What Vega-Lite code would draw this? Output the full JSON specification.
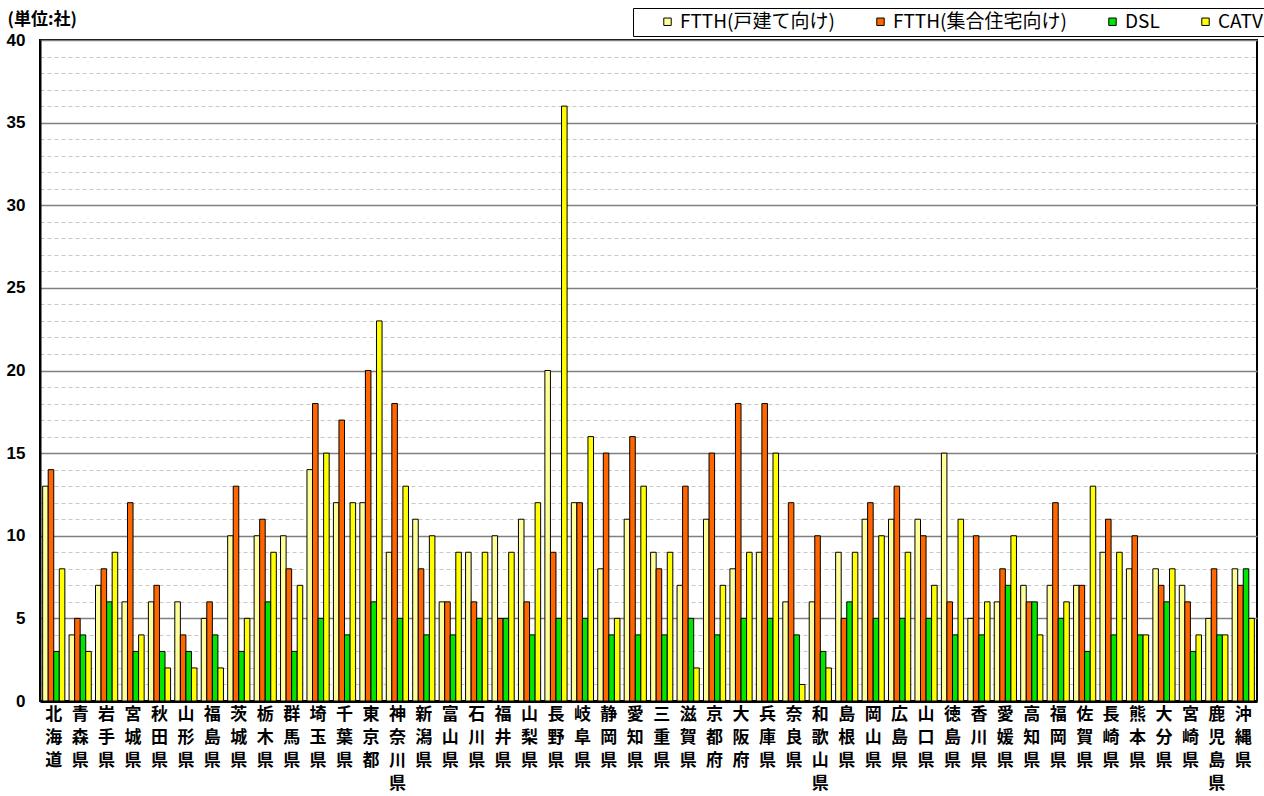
{
 "$schema": "https://vega.github.io/schema/vega-lite/v6.json",
 "width": 1217,
 "height": 661,
 "autosize": "none",
 "padding": {"left": 40, "top": 40, "right": 7, "bottom": 95},
 "background": "white",
 "data": {"values": [
  {"pref":"北海道","series":"FTTH(戸建て向け)","value":13},{"pref":"北海道","series":"FTTH(集合住宅向け)","value":14},{"pref":"北海道","series":"DSL","value":3},{"pref":"北海道","series":"CATV","value":8},
  {"pref":"青森県","series":"FTTH(戸建て向け)","value":4},{"pref":"青森県","series":"FTTH(集合住宅向け)","value":5},{"pref":"青森県","series":"DSL","value":4},{"pref":"青森県","series":"CATV","value":3},
  {"pref":"岩手県","series":"FTTH(戸建て向け)","value":7},{"pref":"岩手県","series":"FTTH(集合住宅向け)","value":8},{"pref":"岩手県","series":"DSL","value":6},{"pref":"岩手県","series":"CATV","value":9},
  {"pref":"宮城県","series":"FTTH(戸建て向け)","value":6},{"pref":"宮城県","series":"FTTH(集合住宅向け)","value":12},{"pref":"宮城県","series":"DSL","value":3},{"pref":"宮城県","series":"CATV","value":4},
  {"pref":"秋田県","series":"FTTH(戸建て向け)","value":6},{"pref":"秋田県","series":"FTTH(集合住宅向け)","value":7},{"pref":"秋田県","series":"DSL","value":3},{"pref":"秋田県","series":"CATV","value":2},
  {"pref":"山形県","series":"FTTH(戸建て向け)","value":6},{"pref":"山形県","series":"FTTH(集合住宅向け)","value":4},{"pref":"山形県","series":"DSL","value":3},{"pref":"山形県","series":"CATV","value":2},
  {"pref":"福島県","series":"FTTH(戸建て向け)","value":5},{"pref":"福島県","series":"FTTH(集合住宅向け)","value":6},{"pref":"福島県","series":"DSL","value":4},{"pref":"福島県","series":"CATV","value":2},
  {"pref":"茨城県","series":"FTTH(戸建て向け)","value":10},{"pref":"茨城県","series":"FTTH(集合住宅向け)","value":13},{"pref":"茨城県","series":"DSL","value":3},{"pref":"茨城県","series":"CATV","value":5},
  {"pref":"栃木県","series":"FTTH(戸建て向け)","value":10},{"pref":"栃木県","series":"FTTH(集合住宅向け)","value":11},{"pref":"栃木県","series":"DSL","value":6},{"pref":"栃木県","series":"CATV","value":9},
  {"pref":"群馬県","series":"FTTH(戸建て向け)","value":10},{"pref":"群馬県","series":"FTTH(集合住宅向け)","value":8},{"pref":"群馬県","series":"DSL","value":3},{"pref":"群馬県","series":"CATV","value":7},
  {"pref":"埼玉県","series":"FTTH(戸建て向け)","value":14},{"pref":"埼玉県","series":"FTTH(集合住宅向け)","value":18},{"pref":"埼玉県","series":"DSL","value":5},{"pref":"埼玉県","series":"CATV","value":15},
  {"pref":"千葉県","series":"FTTH(戸建て向け)","value":12},{"pref":"千葉県","series":"FTTH(集合住宅向け)","value":17},{"pref":"千葉県","series":"DSL","value":4},{"pref":"千葉県","series":"CATV","value":12},
  {"pref":"東京都","series":"FTTH(戸建て向け)","value":12},{"pref":"東京都","series":"FTTH(集合住宅向け)","value":20},{"pref":"東京都","series":"DSL","value":6},{"pref":"東京都","series":"CATV","value":23},
  {"pref":"神奈川県","series":"FTTH(戸建て向け)","value":9},{"pref":"神奈川県","series":"FTTH(集合住宅向け)","value":18},{"pref":"神奈川県","series":"DSL","value":5},{"pref":"神奈川県","series":"CATV","value":13},
  {"pref":"新潟県","series":"FTTH(戸建て向け)","value":11},{"pref":"新潟県","series":"FTTH(集合住宅向け)","value":8},{"pref":"新潟県","series":"DSL","value":4},{"pref":"新潟県","series":"CATV","value":10},
  {"pref":"富山県","series":"FTTH(戸建て向け)","value":6},{"pref":"富山県","series":"FTTH(集合住宅向け)","value":6},{"pref":"富山県","series":"DSL","value":4},{"pref":"富山県","series":"CATV","value":9},
  {"pref":"石川県","series":"FTTH(戸建て向け)","value":9},{"pref":"石川県","series":"FTTH(集合住宅向け)","value":6},{"pref":"石川県","series":"DSL","value":5},{"pref":"石川県","series":"CATV","value":9},
  {"pref":"福井県","series":"FTTH(戸建て向け)","value":10},{"pref":"福井県","series":"FTTH(集合住宅向け)","value":5},{"pref":"福井県","series":"DSL","value":5},{"pref":"福井県","series":"CATV","value":9},
  {"pref":"山梨県","series":"FTTH(戸建て向け)","value":11},{"pref":"山梨県","series":"FTTH(集合住宅向け)","value":6},{"pref":"山梨県","series":"DSL","value":4},{"pref":"山梨県","series":"CATV","value":12},
  {"pref":"長野県","series":"FTTH(戸建て向け)","value":20},{"pref":"長野県","series":"FTTH(集合住宅向け)","value":9},{"pref":"長野県","series":"DSL","value":5},{"pref":"長野県","series":"CATV","value":36},
  {"pref":"岐阜県","series":"FTTH(戸建て向け)","value":12},{"pref":"岐阜県","series":"FTTH(集合住宅向け)","value":12},{"pref":"岐阜県","series":"DSL","value":5},{"pref":"岐阜県","series":"CATV","value":16},
  {"pref":"静岡県","series":"FTTH(戸建て向け)","value":8},{"pref":"静岡県","series":"FTTH(集合住宅向け)","value":15},{"pref":"静岡県","series":"DSL","value":4},{"pref":"静岡県","series":"CATV","value":5},
  {"pref":"愛知県","series":"FTTH(戸建て向け)","value":11},{"pref":"愛知県","series":"FTTH(集合住宅向け)","value":16},{"pref":"愛知県","series":"DSL","value":4},{"pref":"愛知県","series":"CATV","value":13},
  {"pref":"三重県","series":"FTTH(戸建て向け)","value":9},{"pref":"三重県","series":"FTTH(集合住宅向け)","value":8},{"pref":"三重県","series":"DSL","value":4},{"pref":"三重県","series":"CATV","value":9},
  {"pref":"滋賀県","series":"FTTH(戸建て向け)","value":7},{"pref":"滋賀県","series":"FTTH(集合住宅向け)","value":13},{"pref":"滋賀県","series":"DSL","value":5},{"pref":"滋賀県","series":"CATV","value":2},
  {"pref":"京都府","series":"FTTH(戸建て向け)","value":11},{"pref":"京都府","series":"FTTH(集合住宅向け)","value":15},{"pref":"京都府","series":"DSL","value":4},{"pref":"京都府","series":"CATV","value":7},
  {"pref":"大阪府","series":"FTTH(戸建て向け)","value":8},{"pref":"大阪府","series":"FTTH(集合住宅向け)","value":18},{"pref":"大阪府","series":"DSL","value":5},{"pref":"大阪府","series":"CATV","value":9},
  {"pref":"兵庫県","series":"FTTH(戸建て向け)","value":9},{"pref":"兵庫県","series":"FTTH(集合住宅向け)","value":18},{"pref":"兵庫県","series":"DSL","value":5},{"pref":"兵庫県","series":"CATV","value":15},
  {"pref":"奈良県","series":"FTTH(戸建て向け)","value":6},{"pref":"奈良県","series":"FTTH(集合住宅向け)","value":12},{"pref":"奈良県","series":"DSL","value":4},{"pref":"奈良県","series":"CATV","value":1},
  {"pref":"和歌山県","series":"FTTH(戸建て向け)","value":6},{"pref":"和歌山県","series":"FTTH(集合住宅向け)","value":10},{"pref":"和歌山県","series":"DSL","value":3},{"pref":"和歌山県","series":"CATV","value":2},
  {"pref":"島根県","series":"FTTH(戸建て向け)","value":9},{"pref":"島根県","series":"FTTH(集合住宅向け)","value":5},{"pref":"島根県","series":"DSL","value":6},{"pref":"島根県","series":"CATV","value":9},
  {"pref":"岡山県","series":"FTTH(戸建て向け)","value":11},{"pref":"岡山県","series":"FTTH(集合住宅向け)","value":12},{"pref":"岡山県","series":"DSL","value":5},{"pref":"岡山県","series":"CATV","value":10},
  {"pref":"広島県","series":"FTTH(戸建て向け)","value":11},{"pref":"広島県","series":"FTTH(集合住宅向け)","value":13},{"pref":"広島県","series":"DSL","value":5},{"pref":"広島県","series":"CATV","value":9},
  {"pref":"山口県","series":"FTTH(戸建て向け)","value":11},{"pref":"山口県","series":"FTTH(集合住宅向け)","value":10},{"pref":"山口県","series":"DSL","value":5},{"pref":"山口県","series":"CATV","value":7},
  {"pref":"徳島県","series":"FTTH(戸建て向け)","value":15},{"pref":"徳島県","series":"FTTH(集合住宅向け)","value":6},{"pref":"徳島県","series":"DSL","value":4},{"pref":"徳島県","series":"CATV","value":11},
  {"pref":"香川県","series":"FTTH(戸建て向け)","value":5},{"pref":"香川県","series":"FTTH(集合住宅向け)","value":10},{"pref":"香川県","series":"DSL","value":4},{"pref":"香川県","series":"CATV","value":6},
  {"pref":"愛媛県","series":"FTTH(戸建て向け)","value":6},{"pref":"愛媛県","series":"FTTH(集合住宅向け)","value":8},{"pref":"愛媛県","series":"DSL","value":7},{"pref":"愛媛県","series":"CATV","value":10},
  {"pref":"高知県","series":"FTTH(戸建て向け)","value":7},{"pref":"高知県","series":"FTTH(集合住宅向け)","value":6},{"pref":"高知県","series":"DSL","value":6},{"pref":"高知県","series":"CATV","value":4},
  {"pref":"福岡県","series":"FTTH(戸建て向け)","value":7},{"pref":"福岡県","series":"FTTH(集合住宅向け)","value":12},{"pref":"福岡県","series":"DSL","value":5},{"pref":"福岡県","series":"CATV","value":6},
  {"pref":"佐賀県","series":"FTTH(戸建て向け)","value":7},{"pref":"佐賀県","series":"FTTH(集合住宅向け)","value":7},{"pref":"佐賀県","series":"DSL","value":3},{"pref":"佐賀県","series":"CATV","value":13},
  {"pref":"長崎県","series":"FTTH(戸建て向け)","value":9},{"pref":"長崎県","series":"FTTH(集合住宅向け)","value":11},{"pref":"長崎県","series":"DSL","value":4},{"pref":"長崎県","series":"CATV","value":9},
  {"pref":"熊本県","series":"FTTH(戸建て向け)","value":8},{"pref":"熊本県","series":"FTTH(集合住宅向け)","value":10},{"pref":"熊本県","series":"DSL","value":4},{"pref":"熊本県","series":"CATV","value":4},
  {"pref":"大分県","series":"FTTH(戸建て向け)","value":8},{"pref":"大分県","series":"FTTH(集合住宅向け)","value":7},{"pref":"大分県","series":"DSL","value":6},{"pref":"大分県","series":"CATV","value":8},
  {"pref":"宮崎県","series":"FTTH(戸建て向け)","value":7},{"pref":"宮崎県","series":"FTTH(集合住宅向け)","value":6},{"pref":"宮崎県","series":"DSL","value":3},{"pref":"宮崎県","series":"CATV","value":4},
  {"pref":"鹿児島県","series":"FTTH(戸建て向け)","value":5},{"pref":"鹿児島県","series":"FTTH(集合住宅向け)","value":8},{"pref":"鹿児島県","series":"DSL","value":4},{"pref":"鹿児島県","series":"CATV","value":4},
  {"pref":"沖縄県","series":"FTTH(戸建て向け)","value":8},{"pref":"沖縄県","series":"FTTH(集合住宅向け)","value":7},{"pref":"沖縄県","series":"DSL","value":8},{"pref":"沖縄県","series":"CATV","value":5}
 ]},
 "mark": {"type": "bar", "stroke": "black", "strokeWidth": 1},
 "encoding": {
  "x": {
   "field": "pref", "type": "nominal", "sort": null,
   "scale": {"paddingInner": 0.16, "paddingOuter": 0.1},
   "axis": {
    "title": null, "labelAngle": 0, "labelExpr": "split(datum.label, '')",
    "labelFont": "Noto Sans CJK JP", "labelFontWeight": "bold", "labelFontSize": 17,
    "labelLineHeight": 23, "labelBaseline": "top", "labelPadding": 5, "labelColor": "black",
    "labelOverlap": false, "labelBound": false, "ticks": false, "domainColor": "black", "domainWidth": 3
   }
  },
  "xOffset": {
   "field": "series", "type": "nominal",
   "sort": ["FTTH(戸建て向け)", "FTTH(集合住宅向け)", "DSL", "CATV"],
   "scale": {"paddingInner": 0, "paddingOuter": 0}
  },
  "y": {
   "field": "value", "type": "quantitative",
   "scale": {"domain": [0, 40], "nice": false},
   "axis": {
    "title": "(単位:社)", "titleAngle": 0, "titleAlign": "left", "titleBaseline": "bottom",
    "titleX": -33, "titleY": -12, "titleFont": "Noto Sans CJK JP", "titleFontWeight": "bold",
    "titleFontSize": 17, "titleColor": "black",
    "values": [0,1,2,3,4,5,6,7,8,9,10,11,12,13,14,15,16,17,18,19,20,21,22,23,24,25,26,27,28,29,30,31,32,33,34,35,36,37,38,39,40],
    "labelExpr": "datum.value % 5 === 0 ? datum.label : ''",
    "labelFont": "Liberation Sans", "labelFontWeight": "bold", "labelFontSize": 17,
    "labelColor": "black", "labelPadding": 15, "ticks": false,
    "domainColor": "black", "domainWidth": 2,
    "gridDash": {"condition": {"test": "datum.value % 5 === 0", "value": []}, "value": [4, 3]},
    "gridColor": {"condition": {"test": "datum.value % 5 === 0", "value": "#808080"}, "value": "#C8C8C8"},
    "gridWidth": {"condition": {"test": "datum.value % 5 === 0", "value": 1.5}, "value": 1}
   }
  },
  "color": {
   "field": "series", "type": "nominal",
   "sort": ["FTTH(戸建て向け)", "FTTH(集合住宅向け)", "DSL", "CATV"],
   "scale": {"domain": ["FTTH(戸建て向け)", "FTTH(集合住宅向け)", "DSL", "CATV"], "range": ["#FFFF99", "#FF6600", "#00E600", "#FFFF00"]},
   "legend": {
    "orient": "none", "legendX": 593, "legendY": -32, "direction": "horizontal", "columns": 4,
    "title": " ", "titleOrient": "left", "titlePadding": 21,
    "strokeColor": "black", "fillColor": "white", "padding": 4,
    "symbolType": "square", "symbolSize": 55, "symbolStrokeColor": "black", "symbolStrokeWidth": 1,
    "labelFont": "Noto Sans CJK JP", "labelFontSize": 19, "labelColor": "black", "labelLimit": 400,
    "labelExpr": "datum.label === 'CATV' ? 'CATV\u00a0\u00a0\u00a0\u00a0' : datum.label",
    "labelOffset": 3, "columnPadding": 36
   }
  }
 },
 "config": {"view": {"stroke": "black", "strokeWidth": 2}}
}
